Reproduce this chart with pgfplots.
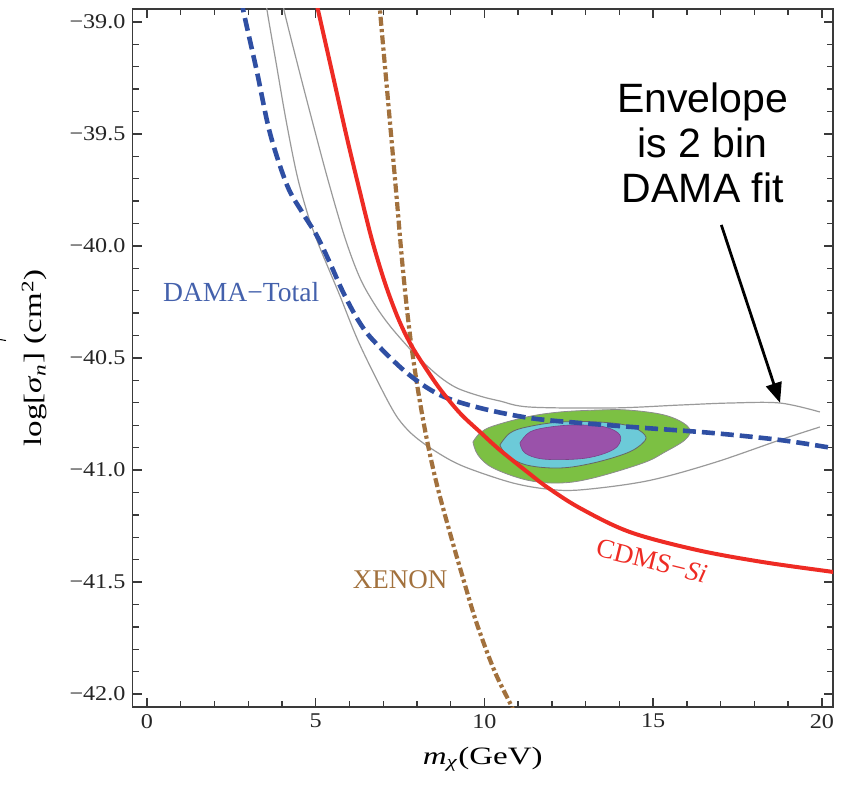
\documentclass[border=0pt]{standalone}
\usepackage{pgfplots}
\pgfplotsset{compat=1.18}
\usepackage{fontspec}
\setmainfont{Liberation Serif}
\newfontfamily\arialfont{Liberation Sans}
\newfontfamily\tickfont[FakeStretch=1.15]{Liberation Serif}
\newfontfamily\labfont[FakeStretch=1.32]{Liberation Serif}
\usetikzlibrary{arrows.meta,calc}

\definecolor{damablue}{HTML}{2F4FA3}
\definecolor{cdmsred}{HTML}{EE2B24}
\definecolor{xenonbrown}{HTML}{A2713D}
\definecolor{envgray}{HTML}{9A9A9A}
\definecolor{cgreen}{HTML}{7CC043}
\definecolor{ccyan}{HTML}{6CCAD8}
\definecolor{cpurple}{HTML}{9A52AA}
\definecolor{framegray}{HTML}{3A3A3A}

\begin{document}
\begin{tikzpicture}
\begin{axis}[
  scale only axis, width=350.25pt, height=349pt,
  xmin=-0.43, xmax=20.33, ymin=-42.058, ymax=-38.942,
  axis line style={framegray, line width=0.9pt},
  tick align=inside, tick pos=both,
  xtick={0,5,10,15,20}, xticklabels={0,5,10,15,20},
  ytick={-42,-41.5,-41,-40.5,-40,-39.5,-39},
  yticklabels={−42.0,−41.5,−41.0,−40.5,−40.0,−39.5,−39.0},
  minor x tick num=4, minor y tick num=4,
  major tick length=4.5pt, minor tick length=3pt,
  every tick/.style={framegray, line width=0.7pt},
  tick label style={font=\tickfont\fontsize{10.5}{12}\selectfont, text=black!85},
  xlabel={\textit{m}\textsubscript{\textit{χ}}(GeV)},
  xlabel style={at={(axis description cs:0.5,-0.0817)}, anchor=base, font=\labfont\fontsize{12.5}{15}\selectfont},
  ylabel={log[\textit{σ}\textsubscript{\textit{n}}] (cm\textsuperscript{2})},
  ylabel style={at={(axis description cs:-0.1292,0.5)}, anchor=base, font=\labfont\fontsize{12.5}{15}\selectfont},
  clip=true,
]
% envelope (2 bin DAMA fit), upper branch
\addplot[envgray, line width=0.6pt, smooth, tension=0.55] coordinates {
(4.047,-38.90) (4.059,-38.946) (4.444,-39.179) (4.889,-39.4375) (5.363,-39.705)
(5.867,-39.964) (6.311,-40.143) (6.756,-40.263) (7.200,-40.357) (7.793,-40.460)
(8.178,-40.518) (8.681,-40.585) (9.185,-40.634) (9.867,-40.670) (10.459,-40.692)
(11.348,-40.719) (13.807,-40.723) (15.793,-40.710) (17.274,-40.701) (18.756,-40.701)
(19.941,-40.741)};
% envelope, lower branch
\addplot[envgray, line width=0.6pt, smooth, tension=0.55] coordinates {
(3.545,-38.90) (3.556,-38.946) (3.822,-39.179) (4.119,-39.4375) (4.444,-39.683)
(4.770,-39.862) (5.067,-39.987) (5.422,-40.116) (5.719,-40.223) (6.311,-40.442)
(7.200,-40.710) (7.644,-40.808) (8.178,-40.879) (8.978,-40.955) (9.659,-41.000)
(10.844,-41.058) (11.852,-41.085) (12.830,-41.089) (14.815,-41.049) (16.770,-40.969)
(18.756,-40.866) (19.941,-40.808)};
% fit contours
\addplot[fill=cgreen, draw=black!45, line width=0.4pt, smooth, tension=0.6] coordinates {
(9.659,-40.875) (9.867,-40.835) (10.252,-40.804) (11.259,-40.763) (12.237,-40.741)
(13.422,-40.732) (14.222,-40.732) (15.200,-40.750) (15.793,-40.781) (16.089,-40.821)
(15.941,-40.866) (15.348,-40.920) (14.696,-40.969) (13.215,-41.036) (12.237,-41.058)
(11.259,-41.045) (10.252,-40.991) (9.807,-40.933) (9.659,-40.875)};
\addplot[fill=ccyan, draw=black!60, line width=0.4pt, smooth, tension=0.6] coordinates {
(10.459,-40.888) (10.756,-40.835) (11.259,-40.808) (12.237,-40.786) (13.422,-40.786)
(14.311,-40.804) (14.756,-40.844) (14.696,-40.879) (14.222,-40.924) (13.215,-40.969)
(12.237,-40.991) (11.259,-40.978) (10.667,-40.933) (10.459,-40.888)};
\addplot[fill=cpurple, draw=cpurple!80!black, line width=0.3pt, smooth, tension=0.6] coordinates {
(11.052,-40.879) (11.348,-40.830) (11.941,-40.808) (12.741,-40.799) (13.570,-40.808)
(14.015,-40.844) (13.926,-40.897) (13.422,-40.933) (12.741,-40.951) (11.733,-40.951)
(11.200,-40.924) (11.052,-40.879)};
% XENON
\addplot[xenonbrown, line width=2.1pt, smooth, tension=0.55,
  dash pattern=on 4.5pt off 1.6pt on 1.6pt off 1.6pt] coordinates {
(6.90,-38.90) (6.904,-38.946) (7.141,-39.348) (7.378,-39.750) (7.585,-40.107)
(7.793,-40.397) (8.030,-40.643) (8.296,-40.866) (8.593,-41.067) (8.978,-41.281)
(9.363,-41.482) (9.778,-41.688) (10.311,-41.902) (10.815,-42.058) (10.87,-42.09)};
% DAMA-Total
\addplot[damablue, line width=2.3pt, smooth, tension=0.55,
  dash pattern=on 6.5pt off 3pt] coordinates {
(2.83,-38.90) (2.844,-38.942) (3.259,-39.223) (3.644,-39.496) (4.148,-39.728)
(4.593,-39.848) (5.037,-39.955) (5.422,-40.076) (5.807,-40.205) (6.252,-40.330)
(6.696,-40.420) (7.704,-40.567) (8.681,-40.665) (9.867,-40.723) (11.348,-40.768)
(12.830,-40.790) (14.815,-40.813) (16.770,-40.835) (18.756,-40.866) (20.326,-40.902)
(20.45,-40.905)};
% CDMS-Si
\addplot[cdmsred, line width=2pt, smooth, tension=0.55] coordinates {
(5.00,-38.90) (5.067,-38.946) (5.511,-39.241) (5.926,-39.518) (6.311,-39.759)
(6.667,-39.973) (7.052,-40.165) (7.437,-40.321) (7.793,-40.433) (8.178,-40.527)
(8.681,-40.638) (9.274,-40.746) (9.867,-40.830) (10.459,-40.911) (11.348,-41.018)
(11.852,-41.076) (12.830,-41.170) (14.311,-41.277) (16.296,-41.357) (18.252,-41.411)
(20.326,-41.455) (20.45,-41.458)};
% curve labels
\node[text=damablue!90!white, font=\fontsize{13.8}{15}\selectfont] at (axis cs:2.79,-40.205) {DAMA−Total};
\node[text=xenonbrown, font=\fontsize{13.5}{15}\selectfont] at (axis cs:7.50,-41.49) {XENON};
\node[text=cdmsred, font=\fontsize{13.5}{15}\selectfont, rotate=-14] at (axis cs:14.96,-41.406) {CDMS−\textit{Si}};
% annotation
\node[font=\arialfont\fontsize{20.5}{22.5}\selectfont, align=center] at (axis cs:16.47,-39.54) {Envelope\\is 2 bin\\DAMA fit};
\draw[line width=1.4pt, -{Triangle[length=10pt,width=8pt]}] (axis cs:17.02,-39.906) -- (axis cs:18.76,-40.70);
\coordinate (bbsw) at (rel axis cs:-0.18915,-0.12034);
\coordinate (bbne) at (rel axis cs:1.01142,1.01289);
\coordinate (st1) at (rel axis cs:-0.1891,0.5265);
\coordinate (st2) at (rel axis cs:-0.1806,0.5250);
\end{axis}
\draw[black, line width=0.5pt] (st1) -- (st2);
\pgfresetboundingbox
\path[use as bounding box] (bbsw) rectangle (bbne);
\end{tikzpicture}
\end{document}
